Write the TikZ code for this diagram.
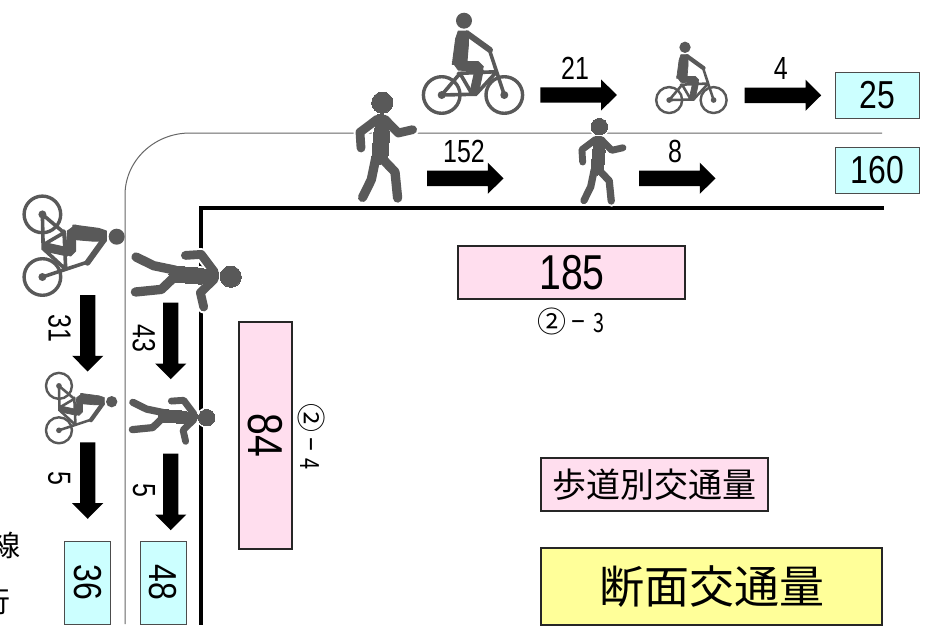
\documentclass[tikz,border=0pt]{standalone}
\usepackage{graphicx}
\usepackage{fontspec}
\setmainfont{Liberation Sans}
\newfontfamily\jp{Noto Sans CJK JP}
\definecolor{figgray}{HTML}{595959}
\definecolor{cyanbox}{HTML}{CCFFFF}
\definecolor{pinkbox}{HTML}{FFDEEE}
\definecolor{yellowbox}{HTML}{FFFF99}
\newcommand{\dg}[3]{\scalebox{#2}[1]{\fontsize{#1}{#1}\selectfont #3}}
% #1 = figure scale, #2 = extra line width (halo)
\newcommand{\walkershape}[2]{%
  \filldraw[line width=#2,line cap=round,line join=round] (0,0) circle (10.6);
  \filldraw[line width=#2,line join=round] (-4.5,12)--(1.5,12)--(7.5,30)--(5.5,55)--(-2.3,62)--(-10.5,55)--(-8.5,30)--cycle;
  \draw[line width=#1*8.8pt+#2,line cap=round,line join=round] (-5,16.5)--(-22.3,29.5)--(-21.3,45.3) (2.5,16.5)--(16,30.3)--(30.3,27);
  \draw[line width=#1*9.3pt+#2,line cap=round,line join=round] (-6.5,55.3)--(-11,77)--(-19.7,94.7) (0,56)--(12.7,69.3)--(15.3,95.3);
}
\tikzset{
  cyanrect/.style={draw=black!70,line width=.8pt,fill=cyanbox},
  pinkrect/.style={draw=black!85,line width=1.7pt,fill=pinkbox},
  yellowrect/.style={draw=black!85,line width=1.7pt,fill=yellowbox},
  lbl/.style={inner sep=0pt},
  roadthin/.style={draw=black!60,line width=1pt},
  roadthick/.style={draw=black,line width=3.6pt},
  pics/blockarrow/.style={code={
    \fill[black] (0,-7.7)--(60.8,-7.7)--(60.8,-15.6)--(76.5,0)--(60.8,15.6)--(60.8,7.7)--(0,7.7)--cycle;}},
  pics/walker/.style={code={
    \begin{scope}[white]\walkershape{#1}{4pt}\end{scope}
    \begin{scope}[figgray]\walkershape{#1}{0pt}\end{scope}}},
  pics/cyclist/.style={code={
    \begin{scope}[figgray,line cap=round,line join=round]
      \fill (0,0) circle (8);
      \draw[line width=#1*3.4pt] (-22.3,74.3) circle (18.3) (40.3,74.3) circle (18.3);
      \draw[line width=#1*3.6pt] (-22.3,74.3)--(12.7,73.5) (-22.3,74.3)--(-4,52.7)--(7.7,72.7) (-5.7,52.7)--(32.7,51)--(12.7,72.7) (26,31)--(40.3,74.3);
      \fill (-22.3,74.3) circle (4) (40.3,74.3) circle (4);
      \filldraw[line width=#1*1pt] (-5.7,10.3)--(4.3,10.3)--(4.3,25)--(2.7,44)--(-11.7,43.7)--(-8.3,18)--cycle;
      \draw[line width=#1*6pt] (3,12.7)--(26,29.3);
      \filldraw[line width=#1*1pt] (-11.7,41)--(14.3,41)--(19.3,46)--(17.7,51)--(-5.7,49.3)--cycle;
      \filldraw[line width=#1*1pt] (11,49.3)--(19.3,49.3)--(14.3,72.7)--(6,71.7)--cycle;
    \end{scope}}}
}
\begin{document}
\begin{tikzpicture}[x=1pt,y=-1pt]
\useasboundingbox (0,0) rectangle (932,629);
% roads
\coordinate (thinEnd) at (882,133);
\coordinate (thinFoot) at (125,624);
\draw[roadthin] (thinEnd) -- (190,133) arc[start angle=90,end angle=180,x radius=65,y radius=-62] -- (thinFoot);
\coordinate (thickEnd) at (884,208);
\coordinate (thickFoot) at (201,625);
\draw[roadthick] (thickEnd) -- (201,208) -- (thickFoot);
% figures
\pic at (382.3,102.7) {walker=1};
\pic[scale=.78] at (599.3,126.7) {walker=.78};
\pic[rotate=-90] at (230.7,276.7) {walker=1};
\pic[rotate=-90,scale=.78] at (206.7,417.7) {walker=.78};
\pic at (464,20.7) {cyclist=1};
\pic[scale=.71] at (685,47.3) {cyclist=.71};
\pic[rotate=-90] at (116.7,236.7) {cyclist=1};
\pic[rotate=-90,scale=.71] at (111.7,401.7) {cyclist=.71};
% arrows
\pic at (540.3,95) {blockarrow};
\pic at (744.7,95.3) {blockarrow};
\pic at (427,178.3) {blockarrow};
\pic at (639,178.3) {blockarrow};
\pic[rotate=-90] at (87.7,295) {blockarrow};
\pic[rotate=-90] at (170.7,302.7) {blockarrow};
\pic[rotate=-90] at (87.7,442.3) {blockarrow};
\pic[rotate=-90] at (170.7,453.7) {blockarrow};
% arrow labels
\node[lbl] (n21) at (575,68) {\dg{32}{.78}{21}};
\node[lbl] (n4) at (780.7,68.3) {\dg{32}{.78}{4}};
\node[lbl] (n152) at (464,151.7) {\dg{32}{.78}{152}};
\node[lbl] (n8) at (675,151.7) {\dg{32}{.78}{8}};
\node[lbl,rotate=-90] (n31) at (59.7,328.7) {\dg{32}{.78}{31}};
\node[lbl,rotate=-90] (n43) at (144,338.3) {\dg{32}{.78}{43}};
\node[lbl,rotate=-90] (n5a) at (59.3,478.3) {\dg{32}{.78}{5}};
\node[lbl,rotate=-90] (n5b) at (144,490.7) {\dg{32}{.78}{5}};
% total boxes
\path[cyanrect] (835.3,72.3) rectangle (919.3,118);
\node[lbl] (t25) at (877.3,95.2) {\dg{39}{.82}{25}};
\path[cyanrect] (835.3,147.7) rectangle (919.3,193.3);
\node[lbl] (t160) at (877.3,170.5) {\dg{39}{.82}{160}};
\path[cyanrect] (64.7,541) rectangle (110.3,624);
\node[lbl,rotate=-90] (t36) at (87.5,582.5) {\dg{39}{.82}{36}};
\path[cyanrect] (140.3,541) rectangle (186,624);
\node[lbl,rotate=-90] (t48) at (163.2,582.5) {\dg{39}{.82}{48}};
% pink
\path[pinkrect] (458,246) rectangle (685,299);
\node[lbl] (p185) at (572,272.5) {\dg{49}{.8}{185}};
\path[pinkrect] (239,322) rectangle (292,549);
\node[lbl,rotate=-90] (p84) at (265.5,435.5) {\dg{49}{.8}{84}};
\node[lbl] (c3) at (570.6,321) {\jp\fontsize{29}{29}\selectfont ②\kern4pt\scalebox{.55}[1]{－}\kern7pt\dg{26.5}{.75}{3}};
\node[lbl,rotate=-90] (c4) at (311.5,436.5) {\jp\fontsize{29}{29}\selectfont ②\kern4pt\scalebox{.55}[1]{－}\kern7pt\dg{26.5}{.75}{4}};
\path[pinkrect] (541,458) rectangle (768,511);
\node[lbl] (walkbox) at (654.5,484.5) {\jp\fontsize{34}{34}\selectfont 歩道別交通量};
\path[yellowrect] (541,548) rectangle (882,625);
\node[lbl] (secbox) at (711.5,586.5) {\jp\fontsize{45}{45}\selectfont 断面交通量};
% cut-off text
\node[lbl] (cut1) at (5.5,545) {\jp\fontsize{29}{29}\selectfont 線};
\node[lbl] (cut2) at (-4,602) {\jp\fontsize{29}{29}\selectfont 行};
\end{tikzpicture}
\end{document}
